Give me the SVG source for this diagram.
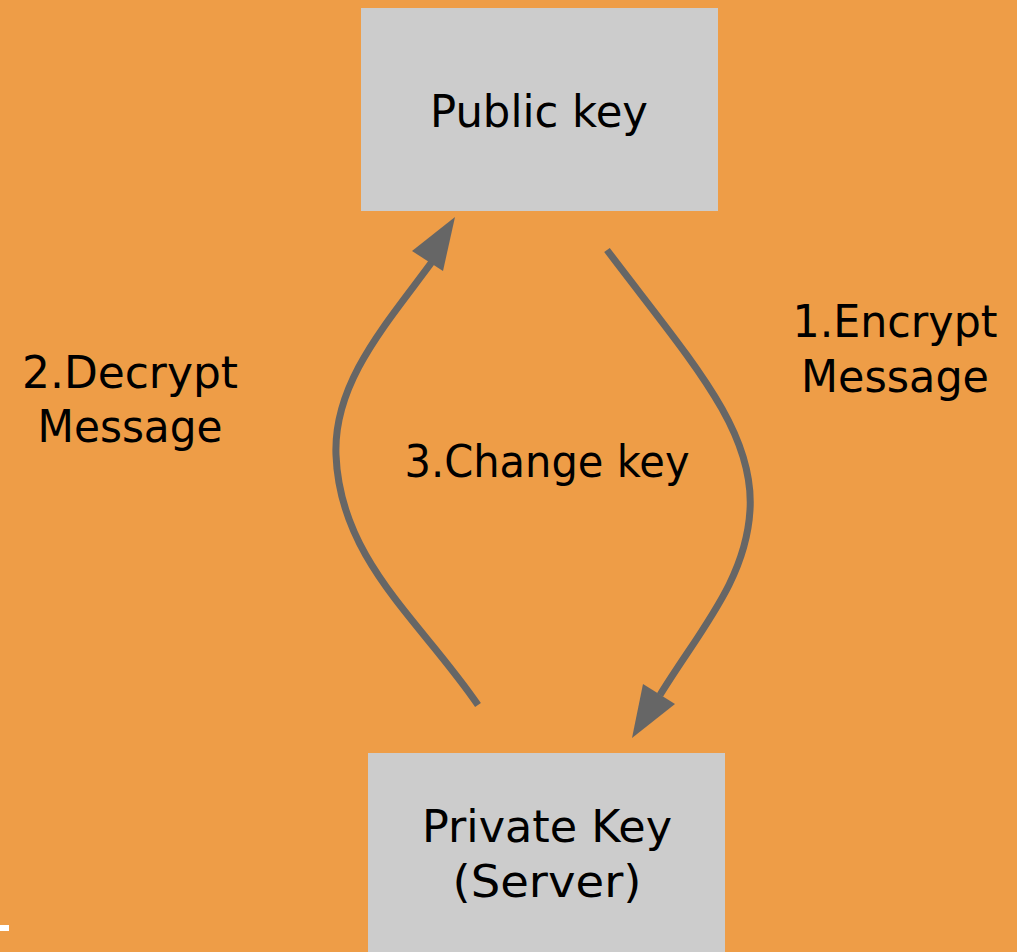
<svg xmlns="http://www.w3.org/2000/svg" width="1017" height="952" viewBox="0 0 1017 952">
<style>
.box{fill:#cccccc}
.t{font-family:"DejaVu Sans","Liberation Sans",sans-serif;font-size:44px;fill:#000;text-anchor:middle}
.c{fill:none;stroke:#666666;stroke-width:7}
.ah{fill:#666666}
</style>
<rect width="1017" height="952" fill="#ee9d47"/>
<rect x="0" y="925" width="9" height="6" fill="#ffffff"/>
<g id="public-key">
<rect class="box" x="361" y="8" width="357" height="203"/>
<text class="t" x="539" y="127" textLength="218" lengthAdjust="spacingAndGlyphs">Public key</text>
</g>
<g id="private-key">
<rect class="box" x="368" y="753" width="357" height="210"/>
<text class="t" x="547" y="842" textLength="250" lengthAdjust="spacingAndGlyphs">Private Key</text>
<text class="t" x="547" y="897" textLength="189" lengthAdjust="spacingAndGlyphs">(Server)</text>
</g>
<g id="connectors">
<path class="c" d="M607,250 C690,360 755,430 750,510 C746,580 700,630 660,695"/>
<polygon class="ah" points="632,738 643,684 675,704"/>
<path class="c" d="M478,705 C420,620 340,560 336,455 C333,380 390,320 437,255"/>
<polygon class="ah" points="455,217 412,251 443,271"/>
</g>
<g id="labels">
<text class="t" x="895" y="337" textLength="205" lengthAdjust="spacingAndGlyphs">1.Encrypt</text>
<text class="t" x="895" y="392" textLength="188" lengthAdjust="spacingAndGlyphs">Message</text>
<text class="t" x="130" y="388" textLength="216" lengthAdjust="spacingAndGlyphs">2.Decrypt</text>
<text class="t" x="130" y="442" textLength="185" lengthAdjust="spacingAndGlyphs">Message</text>
<text class="t" x="547" y="477" textLength="285" lengthAdjust="spacingAndGlyphs">3.Change key</text>
</g>
</svg>
